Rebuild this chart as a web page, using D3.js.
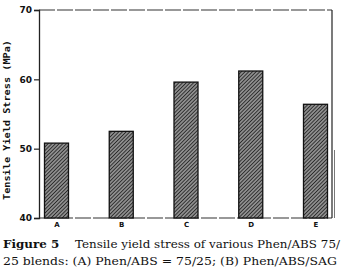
<!DOCTYPE html>
<html>
<head>
<meta charset="utf-8">
<script src="https://cdn.jsdelivr.net/npm/d3@7"></script>
<style>
  body { margin: 0; background: #fff; }
  svg { display: block; }
</style>
</head>
<body>
<svg id="chart"></svg>
<script>
// data
const categories = ["A", "B", "C", "D", "E"];
const stress = [50.8, 52.5, 59.6, 61.2, 56.4];
const yTicks = [40, 50, 60, 70];

const w = 342, h = 272;
const plotL = 39, plotR = 332, plotT = 10, plotB = 218;

const svg = d3.select("#chart").attr("width", w).attr("height", h);

const defs = svg.append("defs");
const pat = defs.append("pattern")
  .attr("id", "hatch")
  .attr("patternUnits", "userSpaceOnUse")
  .attr("width", 2.6).attr("height", 2.6)
  .attr("patternTransform", "rotate(45)");
pat.append("rect").attr("width", 2.6).attr("height", 2.6).attr("fill", "#8e8e8e");
pat.append("line").attr("x1", 0).attr("y1", 0).attr("x2", 0).attr("y2", 2.6)
  .attr("stroke", "#1a1a1a").attr("stroke-width", 1.5);

const x = d3.scalePoint().domain(categories).range([56.5, 315.5]);
const y = d3.scaleLinear().domain([40, 70]).range([plotB, plotT]);
const barW = 24;

// frame
svg.append("line").attr("x1", plotL).attr("x2", plotR).attr("y1", plotT).attr("y2", plotT)
  .attr("stroke", "#333").attr("stroke-width", 1.2).attr("stroke-dasharray", "16,2");
svg.append("line").attr("x1", plotL).attr("x2", plotR).attr("y1", plotB).attr("y2", plotB)
  .attr("stroke", "#333").attr("stroke-width", 1.2).attr("stroke-dasharray", "16,2");
svg.append("line").attr("x1", plotR).attr("x2", plotR).attr("y1", plotT).attr("y2", plotB)
  .attr("stroke", "#222").attr("stroke-width", 1.2);
svg.append("line").attr("x1", plotR + 2.5).attr("x2", plotR + 2.5).attr("y1", 150).attr("y2", plotB)
  .attr("stroke", "#555").attr("stroke-width", 0.8);

// bars
svg.selectAll("rect.bar")
  .data(stress)
  .join("rect")
  .attr("class", "bar")
  .attr("x", (d, i) => x(categories[i]) - barW / 2)
  .attr("y", d => y(d))
  .attr("width", barW)
  .attr("height", d => y(40) - y(d))
  .attr("fill", "url(#hatch)")
  .attr("stroke", "#111")
  .attr("stroke-width", 1.3);

// y axis
const yAxis = d3.axisLeft(y).tickValues(yTicks).tickSize(5).tickPadding(2).tickFormat(d3.format("d"));
const gy = svg.append("g").attr("transform", "translate(" + plotL + ",0)").call(yAxis);
gy.select(".domain").attr("stroke", "#222").attr("stroke-width", 1.3);
gy.selectAll(".tick line").attr("stroke", "#222").attr("stroke-width", 1.2);
gy.selectAll(".tick text")
  .attr("font-family", "DejaVu Sans").attr("font-weight", "bold")
  .attr("font-size", 9).attr("fill", "#111");

// x axis labels
const xAxis = d3.axisBottom(x).tickSize(0).tickPadding(4);
const gx = svg.append("g").attr("transform", "translate(0," + plotB + ")").call(xAxis);
gx.select(".domain").remove();
gx.selectAll(".tick text")
  .attr("font-family", "DejaVu Sans").attr("font-weight", "bold")
  .attr("font-size", 7).attr("fill", "#111");

// y title
svg.append("text")
  .attr("transform", "translate(9.5,120) rotate(-90)")
  .attr("text-anchor", "middle")
  .attr("font-family", "DejaVu Sans Mono").attr("font-weight", "bold")
  .attr("font-size", 8.5).attr("fill", "#111")
  .attr("textLength", 160).attr("lengthAdjust", "spacingAndGlyphs")
  .text("Tensile Yield Stress (MPa)");

// caption
const cap1 = svg.append("text").attr("x", 3).attr("y", 248)
  .attr("font-family", "DejaVu Serif").attr("font-size", 11).attr("fill", "#111")
  .attr("textLength", 337).attr("lengthAdjust", "spacingAndGlyphs");
cap1.append("tspan").attr("font-weight", "bold").text("Figure 5");
cap1.append("tspan").text("\u2003 Tensile yield stress of various Phen/ABS 75/");

svg.append("text").attr("x", 3).attr("y", 265)
  .attr("font-family", "DejaVu Serif").attr("font-size", 11).attr("fill", "#111")
  .attr("textLength", 334).attr("lengthAdjust", "spacingAndGlyphs")
  .text("25 blends: (A) Phen/ABS = 75/25; (B) Phen/ABS/SAG");
</script>
</body>
</html>
